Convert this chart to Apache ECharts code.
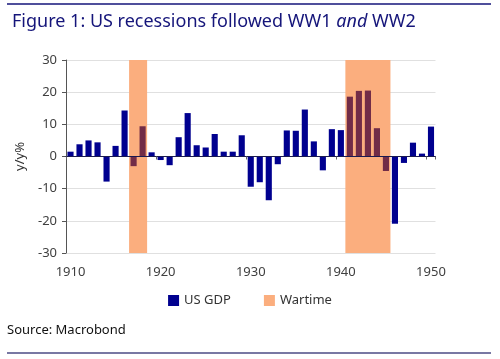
<!DOCTYPE html>
<html>
<head>
<meta charset="utf-8">
<script src="https://cdn.jsdelivr.net/npm/echarts@6/dist/echarts.min.js"></script>
<style>
html,body{margin:0;padding:0;background:#fff;}
#chart{width:500px;height:359px;}
</style>
</head>
<body>
<div id="chart"></div>
<script>
const years = [];
for (let y = 1910; y <= 1950; y++) years.push(String(y));
const gdp = [1.5, 3.8, 5.0, 4.4, -7.8, 3.3, 14.3, -3.0, 9.4, 1.3,
  -1.1, -2.7, 6.0, 13.5, 3.5, 2.8, 7.0, 1.5, 1.5, 6.6,
  -9.4, -8.0, -13.6, -2.4, 8.1, 8.0, 14.6, 4.7, -4.3, 8.5,
  8.2, 18.6, 20.4, 20.5, 8.8, -4.5, -20.9, -2.0, 4.3, 0.9, 9.3];
const warStart = ['1917', '1941'];
const warEnd = ['1918', '1945'];
const yMin = -30, yMax = 30, yStep = 10;

const FONT = '"Noto Sans", "Open Sans", sans-serif';
const NAVY = '#00008f';
const WAR_BAR = '#722c47';
const ORANGE = '#fbae7e';

function inWar(y) {
  for (let i = 0; i < warStart.length; i++) {
    if (+y >= +warStart[i] && +y <= +warEnd[i]) return true;
  }
  return false;
}

const gdpData = gdp.map((v, i) => ({
  value: v,
  itemStyle: { color: inWar(years[i]) ? WAR_BAR : NAVY }
}));

// wartime bands span whole year slots: from start-0.5 to end+0.5 on a hidden numeric year axis
const warSeries = warStart.map((s, i) => ({
  name: 'Wartime', type: 'line', xAxisIndex: 2, silent: true, z: 1,
  data: [[+s - 0.5, yMax], [+warEnd[i] + 0.5, yMax]],
  showSymbol: false, symbol: 'none',
  lineStyle: { width: 0, color: ORANGE },
  itemStyle: { color: ORANGE },
  areaStyle: { color: ORANGE, opacity: 1, origin: 'start' }
}));

const chart = echarts.init(document.getElementById('chart'), null, { renderer: 'canvas' });
chart.setOption({
  animation: false,
  textStyle: { fontFamily: FONT },
  title: {
    left: 7, top: 8,
    text: '{a|Figure 1: US recessions followed WW1 }{b|and}{a| WW2}',
    textStyle: {
      fontWeight: 'normal',
      rich: {
        a: { fontFamily: FONT, fontSize: 18, color: '#15157a', fontWeight: 'normal' },
        b: { fontFamily: FONT, fontSize: 18, color: '#15157a', fontStyle: 'italic', fontWeight: 'normal' }
      }
    }
  },
  graphic: [
    { type: 'line', shape: { x1: 7, y1: 4, x2: 491, y2: 4 }, style: { stroke: '#15157a', lineWidth: 1.5 } },
    { type: 'line', shape: { x1: 7, y1: 353, x2: 491, y2: 353 }, style: { stroke: '#4b4b85', lineWidth: 1.5 } },
    { type: 'text', left: 7, top: 324, style: { text: 'Source: Macrobond', font: '13px ' + FONT, fill: '#111' } }
  ],
  legend: {
    top: 289, left: 'center',
    itemWidth: 11, itemHeight: 11, itemGap: 33,
    textStyle: { fontFamily: FONT, fontSize: 13, color: '#333' },
    icon: 'rect',
    data: [{ name: 'US GDP', itemStyle: { color: NAVY } }, { name: 'Wartime', itemStyle: { color: ORANGE } }]
  },
  grid: { left: 66, right: 64.5, top: 60, bottom: 106 },
  xAxis: [
    {
      type: 'category', data: years, position: 'bottom',
      axisLine: { show: false, onZero: false },
      axisTick: { show: false },
      axisLabel: { interval: 9, color: '#404040', fontSize: 13, margin: 13, fontFamily: FONT },
      splitLine: { show: false }
    },
    {
      type: 'category', data: years, position: 'bottom', z: 10,
      axisLine: { show: true, onZero: true, lineStyle: { color: '#1a1a50', width: 1 } },
      axisTick: { show: true, interval: 9, length: 3, lineStyle: { color: '#666' } },
      axisLabel: { show: false },
      splitLine: { show: false }
    },
    {
      type: 'value', min: +years[0] - 0.5, max: +years[years.length - 1] + 0.5, show: false,
      axisLine: { onZero: false }
    }
  ],
  yAxis: {
    type: 'value', min: yMin, max: yMax, interval: yStep,
    name: 'y/y%', nameLocation: 'middle', nameGap: 34, nameRotate: 90,
    nameTextStyle: { fontFamily: FONT, fontSize: 13, color: '#333' },
    axisLine: { show: true, lineStyle: { color: '#555' } },
    axisTick: { show: true, length: 4, lineStyle: { color: '#555' } },
    axisLabel: { color: '#404040', fontSize: 13, margin: 9, fontFamily: FONT },
    splitLine: { show: true, lineStyle: { color: '#e0e0e0' } }
  },
  series: warSeries.concat([
    {
      name: 'US GDP', type: 'bar', data: gdpData, xAxisIndex: 0, z: 3,
      barWidth: '68%',
      itemStyle: { color: NAVY }
    }
  ])
});
</script>
</body>
</html>
